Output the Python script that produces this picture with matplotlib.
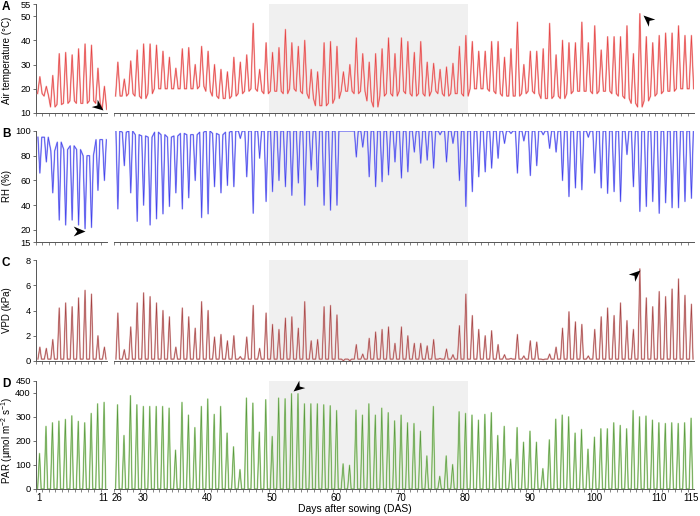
import numpy as np
import matplotlib
matplotlib.use("Agg")
import matplotlib.pyplot as plt
from matplotlib.path import Path

plt.rcParams['font.family'] = ['Liberation Sans', 'DejaVu Sans']
plt.rcParams['mathtext.fontset'] = 'custom'
plt.rcParams['mathtext.rm'] = 'Liberation Sans'

# days after sowing with readings (gap between day 11 and 26)
days = list(range(1, 12)) + list(range(26, 116))

# daily maximum / minimum air temperature (C)
temp_max = [25, 21, 25.5, 34.5, 35, 34, 36.5, 38.5, 38, 28.5, 21,
            31, 24, 31.5, 36, 38.5, 38.5, 38, 35.5, 33, 28.5, 36.5, 37, 30, 37.5, 35.5, 30, 28, 27, 33,
            31, 34, 47, 28, 39, 35, 37, 44.5, 39, 37.5, 40, 28, 27, 39, 39.5, 37.5,
            27, 30, 41, 34.5, 31, 34.5, 36.5, 41, 34.5, 41, 39.5, 35, 39.5, 31, 30.5, 28, 29, 30.5, 37.5, 42,
            39.5, 35.5, 35.5, 39.5, 39.5, 33, 36.5, 47.5, 30, 35.5, 35.5, 36.5, 47, 34, 40, 39, 39, 47.5,
            39, 46, 36, 41.5, 41.5, 41.5, 46, 34.5, 51, 41.5, 39, 42, 43, 43, 46, 42, 42]
temp_min = [18, 17, 12.5, 13.5, 14, 15, 14, 14, 15, 14, 11.5,
            17, 17, 18, 17, 16, 18, 20, 20, 20, 20, 20, 20, 20, 21, 19, 17, 16, 16, 17,
            18, 19, 20, 19, 18, 19, 19, 18, 20, 19, 18, 16, 13, 13, 14, 16,
            19, 19, 18, 19, 15, 12.5, 17, 18, 17, 19, 18, 17, 18, 17, 19, 18, 17, 18, 18, 17,
            20, 20, 20, 19, 18, 17, 17, 17, 18, 19, 18, 16, 16, 17, 16, 18, 19, 19,
            19, 18, 19, 19, 18, 17, 16, 14, 12.5, 15, 17, 18, 19, 19, 20, 20, 20]

# relative humidity (%): night plateau and afternoon trough
rh_max = [95, 95, 84, 91, 85, 88, 85, 80, 80, 93, 93,
          100, 99, 100, 97, 96, 95, 99, 97, 95, 96, 98, 97, 97, 99, 100, 98, 97, 99, 100] + [100] * 71
rh_min = [66, 75, 50, 28, 24, 28, 24, 21, 22, 52, 60,
          37, 72, 50, 27, 40, 24, 29, 33, 39, 50, 37, 46, 60, 30, 33, 55, 50, 56, 55,
          94, 63, 33.5, 78, 43, 51, 60, 55, 48, 58, 40, 68.5, 55, 40, 36, 40,
          100, 100, 79, 87, 63, 55, 59, 64.5, 75, 62, 67, 83, 74, 76.5, 70, 97, 75, 90, 60, 39,
          51, 63, 67, 70, 78, 90, 98, 66, 92, 64, 72, 97, 86, 83, 60, 47, 54, 52.5,
          95, 66, 54, 49.6, 51, 43, 81, 55, 35, 39, 43, 33.5, 42, 38, 38, 43, 45.6]

# vapour pressure deficit (kPa), daily peak
vpd_max = [1.1, 1.0, 1.7, 4.2, 4.6, 4.3, 5.0, 5.6, 5.3, 2.0, 1.1,
           3.8, 0.9, 2.7, 4.6, 5.4, 5.1, 4.6, 4.0, 3.5, 1.1, 4.2, 3.5, 2.6, 4.7, 4.0, 1.9, 2.1, 1.6, 2.0,
           0.35, 1.9, 4.4, 1.0, 3.8, 2.9, 2.5, 3.4, 3.5, 2.6, 4.7, 1.6, 1.7, 4.3, 4.4, 3.65,
           0.02, 0.02, 1.3, 0.55, 1.8, 2.3, 2.5, 2.7, 1.4, 2.7, 2.0, 1.4, 1.4, 1.2, 1.7, 0.2, 0.95, 0.5, 2.8, 5.3,
           3.6, 2.5, 2.0, 2.4, 1.3, 0.5, 0.2, 2.1, 0.4, 1.6, 1.5, 0.1, 0.55, 1.1, 2.6, 3.9, 3.1, 2.9,
           0.4, 2.5, 3.5, 4.2, 3.6, 4.6, 3.2, 2.5, 7.3, 5.0, 4.3, 5.5, 5.1, 5.7, 6.5, 5.2, 4.5]
vpd_night = 0.15

# photosynthetically active radiation, daily peak
par_max = [148, 261, 276, 283, 290, 305, 282, 276, 315, 355, 361,
           351, 223, 389, 351, 344, 344, 344, 344, 337, 162, 361, 308, 256, 344, 375, 311, 344, 233, 176,
           81, 379, 358, 237, 372, 219, 379, 376, 397, 397, 355, 355, 355, 351, 347, 327,
           105, 99, 329, 308, 355, 308, 337, 318, 284, 308, 276, 273, 241, 138, 344, 53, 138, 102, 322, 315,
           308, 287, 311, 318, 223, 261, 124, 256, 195, 241, 195, 85, 205, 291, 308, 301, 233, 248,
           166, 216, 251, 251, 276, 265, 251, 327, 301, 304, 287, 276, 273, 276, 273, 276, 295]
par_night = 0

shade_days = (49.6, 80.4)
left_ticks = [1, 11]
right_ticks = [26, 30, 40, 50, 60, 70, 80, 90, 100, 110, 115]


def day_curve(lo, hi, t_lo, t_hi, t_back):
    # low point, high point and back to the low for every day
    xs, ys = [], []
    for d, a, b in zip(days, lo, hi):
        xs += [d + t_lo, d + t_hi, d + t_back]
        ys += [a, b, a]
    return xs, ys


# RH axis is stretched below 20 % (axis starts at 15 with a gap)
def rh_fwd(y):
    y = np.asarray(y, dtype=float)
    return np.where(y < 20, 20 - (20 - y) * 1.95, y)


def rh_inv(t):
    t = np.asarray(t, dtype=float)
    return np.where(t < 20, 20 - (20 - t) / 1.95, t)


n = len(days)
panels = [
    dict(letter='A', label='Air temperature (°C)', ylim=(10, 55), yticks=[10, 20, 30, 40, 50, 55],
         curve=day_curve(temp_min, temp_max, -0.25, 0.1, 0.45), light='#f3a9a9', dark='#e01515', lab_y=60),
    dict(letter='B', label='RH (%)', ylim=(15, 100), yticks=[15, 20, 40, 60, 80, 100],
         curve=day_curve(rh_max, rh_min, -0.2, 0.1, 0.4), light='#ababf6', dark='#1212e8', lab_y=186),
    dict(letter='C', label='VPD (kPa)', ylim=(0, 8), yticks=[0, 2, 4, 6, 8],
         curve=day_curve([vpd_night] * n, vpd_max, -0.2, 0.1, 0.35), light='#e0b3b3', dark='#8b1010', lab_y=310),
    dict(letter='D', label='PAR (µmol m$^{-2}$ s$^{-1}$)', ylim=(0, 450), yticks=[0, 100, 200, 300, 400, 450],
         curve=day_curve([par_night] * n, par_max, -0.25, 0.05, 0.3), light='#b7daa2', dark='#2f7d12', lab_y=441),
]

W, H = 700, 516
rows = [(4, 113), (131, 242), (260, 361), (381, 489)]
axis_col = '#555555'

fig = plt.figure(figsize=(7, 5.16), dpi=100)

for p, (top, bot) in zip(panels, rows):
    axL = fig.add_axes([36 / W, 1 - bot / H, 71 / W, (bot - top) / H])
    axR = fig.add_axes([114 / W, 1 - bot / H, 580 / W, (bot - top) / H])
    xs, ys = p['curve']
    for ax, lo, hi in [(axL, 0.5, 11.5), (axR, 25.5, 115.5)]:
        if p['letter'] == 'B':
            ax.set_yscale('function', functions=(rh_fwd, rh_inv))
        seg = [(x, y) for x, y in zip(xs, ys) if lo <= x <= hi]
        sx = [s[0] for s in seg]
        sy = [s[1] for s in seg]
        ax.plot(sx, sy, color=p['light'], lw=1.15, solid_joinstyle='round', zorder=3)
        ax.plot(sx, sy, color=p['dark'], lw=0.45, alpha=0.7, zorder=4)
        ax.set_xlim(lo, hi)
        ax.set_ylim(*p['ylim'])
        for s in ['top', 'right']:
            ax.spines[s].set_visible(False)
        for s in ['bottom', 'left']:
            ax.spines[s].set_color(axis_col)
            ax.spines[s].set_linewidth(0.7)
        ax.set_xticks([x + 0.5 for x in range(int(lo), int(hi))], minor=True)
        ax.tick_params(axis='x', which='minor', length=2.5, width=0.5, color=axis_col)
        ax.tick_params(axis='x', which='major', length=0, labelsize=7, pad=3)
        ax.tick_params(axis='y', which='both', length=2.5, width=0.6, color=axis_col, labelsize=6.7, pad=1.2)
        ax.patch.set_alpha(0)
    axL.set_xticks(left_ticks)
    axR.set_xticks(right_ticks)
    if p['letter'] != 'D':
        axL.set_xticklabels([])
        axR.set_xticklabels([])
    axL.set_yticks(p['yticks'])
    axL.set_yticklabels([str(v) for v in p['yticks']])
    axL.yaxis.set_minor_locator(plt.NullLocator())
    axR.set_yticks([])
    axR.yaxis.set_minor_locator(plt.NullLocator())
    axR.spines['left'].set_visible(False)
    axR.axvspan(*shade_days, color='#f0f0f0', lw=0, zorder=0)
    fig.text(7.5 / W, 1 - p['lab_y'] / H, p['label'], rotation=90, ha='center', va='center', fontsize=7.0)
    fig.text(2 / W, 1 - (top + 3) / H, p['letter'], fontsize=8.5, fontweight='bold', ha='left', va='center')
    p['axL'], p['axR'] = axL, axR

fig.text(355 / W, 1 - 509 / H, 'Days after sowing (DAS)', ha='center', va='center', fontsize=7.5)


def arrowhead(ax, x, y, angle):
    # stealth-shaped arrowhead whose point sits on (x, y), turned to angle (deg)
    verts = np.array([[0, 0], [-1, 0.42], [-0.7, 0], [-1, -0.42], [0, 0]])
    c, s = np.cos(np.radians(angle)), np.sin(np.radians(angle))
    verts = verts @ np.array([[c, s], [-s, c]])
    ax.plot([x], [y], marker=Path(verts, closed=True), ms=17, color='black',
            mew=0, clip_on=False, zorder=6)


# black arrowheads marking extreme values
arrowhead(panels[0]['axL'], 10.9, 11.4, -39)
arrowhead(panels[0]['axR'], 107.6, 50.5, 138)
arrowhead(panels[1]['axL'], 8.1, 19.5, 0)
arrowhead(panels[2]['axR'], 107.1, 7.2, 42)
arrowhead(panels[3]['axR'], 53.3, 409, 219)

fig.savefig('out.png', dpi=100)
